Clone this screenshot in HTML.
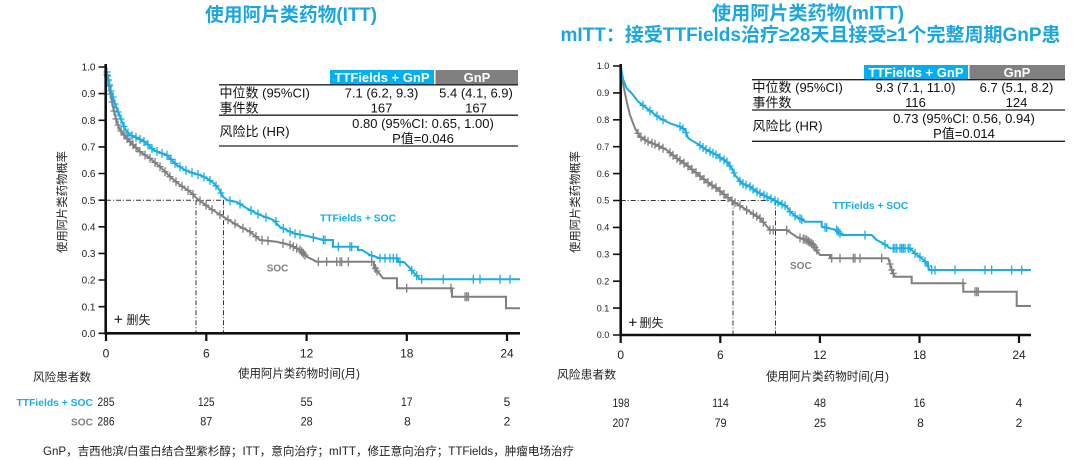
<!DOCTYPE html>
<html><head><meta charset="utf-8">
<style>
html,body{margin:0;padding:0;background:#fff;width:1080px;height:460px;overflow:hidden}
svg{display:block}
text{font-family:"Liberation Sans","Noto Sans CJK SC",sans-serif;fill:#1a1a1a}
.ttl{fill:#1aa6e0;font-weight:bold;font-size:19px}
.yt{font-size:10px;fill:#222}
.yt2{font-size:9px;fill:#222}
.xt{font-size:12px;fill:#222}
.tb{font-size:13px;fill:#111}
.hd{font-size:13px;font-weight:bold;fill:#fff}
.bl{fill:#19ade8;font-weight:bold;font-size:10.5px}
.gr{fill:#808080;font-weight:bold;font-size:10.5px}
.rn{font-size:12px;fill:#222}
</style></head><body>
<svg width="1080" height="460" viewBox="0 0 1080 460" xmlns="http://www.w3.org/2000/svg">
<defs>
<marker id="mb" viewBox="0 0 10 12" markerWidth="10" markerHeight="12" refX="5" refY="6" markerUnits="userSpaceOnUse" overflow="visible"><path d="M5,1.5V10.5M1.5,6H8.5" stroke="#19ade8" stroke-width="1.3" fill="none"/></marker>
<marker id="mg" viewBox="0 0 10 12" markerWidth="10" markerHeight="12" refX="5" refY="6" markerUnits="userSpaceOnUse" overflow="visible"><path d="M5,1.5V10.5M1.5,6H8.5" stroke="#808080" stroke-width="1.3" fill="none"/></marker>
</defs>

<!-- Titles -->
<text x="291" y="21" text-anchor="middle" class="ttl" textLength="172" lengthAdjust="spacingAndGlyphs">使用阿片类药物(ITT)</text>
<text x="808" y="19.5" text-anchor="middle" class="ttl" textLength="192" lengthAdjust="spacingAndGlyphs">使用阿片类药物(mITT)</text>
<text x="810.5" y="41" text-anchor="middle" class="ttl" textLength="500" lengthAdjust="spacingAndGlyphs">mITT：接受TTFields治疗≥28天且接受≥1个完整周期GnP患</text>

<!-- ================= LEFT CHART ================= -->
<g>
<path d="M106,200.2H224M196,200.2V333M223.5,200.2V333" stroke="#333" stroke-width="1" stroke-dasharray="5 2 1 2" fill="none"/>
<polyline fill="none" stroke="#808080" stroke-width="2" points="105.7,66 107,75 108.3,81.7 110,91.7 113.3,108.3 116.7,121.7 120,130 126.7,138.3 133.3,145 140,151.7 150,158.3 160,166.7 170,176.7 180,185 190,191.7 196.7,198.3 210,208.3 223.3,216.7 236.7,225 250,231.7 260,240 276.7,241.7 290,245 300,250 306.7,256.7 316.7,261.7 374,261.7 374,268 378,272 383,278.3 397,278.3 397,288.3 452,288.3 452,296.7 506,296.7 506,308.3 520,308.3"/>
<polyline fill="none" stroke="#19ade8" stroke-width="2" points="105.7,66 106.5,72 108.3,78.3 110,88 113.3,98.3 116.7,108.3 120,116.7 123.3,125 126.7,131.7 130,135 136.7,137.7 143.3,141 148.3,145 153.3,150 160,152.7 166.7,155 171.7,160 176.7,165 185,170 193.3,173.3 200,175 206.7,178.3 213.3,182.7 218.3,188.3 223.3,196.7 226.7,200 236.7,202 246.7,208.3 260,215 273.3,220 280,227 286.7,230 293.3,233.3 310,236.7 323.3,240 333,240 333,246.7 358,246.7 358,250 362,250 370,255 380,258.3 398,258.3 398,262 404,262 410,268.3 414,273 417,276 420,279.3 520,279.3"/>
<polyline fill="none" stroke="none" marker-start="url(#mg)" marker-mid="url(#mg)" marker-end="url(#mg)" points="107,75 108,80 109,86 110.5,94 112,102 114,111 116,119 118,125 121,131 124,135 127,138.6 130,141.7 133,144.7 136,147.7 140,151.7 145,155 150,158.3 155,162.5 160,166.7 165,171.7 170,176.7 176,181.7 182,186.3 188,190.4 193,194.3 200,200.8 206,205.3 212,209.6 220,214.7 228,219.8 235,223.9 243,228.2 250,231.7 256,236.7 262,240.2 268,240.8 283,243.2 290,245 293.3,246.7 296.7,248.3 300,250 301.7,251.7 303.3,253.3 305,255 318.3,261.7 326.7,261.7 336.7,261.7 340,261.7 341.7,261.7 348.3,261.7 371.7,261.7 375.5,268.5 377,271 406.7,288.3 451,288.3 465,296.7 466.7,296.7 468.3,296.7"/>
<polyline fill="none" stroke="none" marker-start="url(#mb)" marker-mid="url(#mb)" marker-end="url(#mb)" points="107,72 107.5,76 108.5,80 109.5,85 111,91 113,97 115,104 118,112 121,119 124,126.5 128,133 132,135.8 136,137.4 140,139.4 144,141.5 148,144.8 152,148.7 157,151.5 162,153.4 167,155.3 171,159.3 175,163.3 180,166.9 186,170.4 192,172.8 198,174.5 204,177 210,180.5 216,185.8 221,193 230,200.7 240,204 251,210.5 258,214 266,217.3 276,221.5 283.3,228.5 290,231.7 295,233.6 300,234.6 313.3,237.5 323.3,240 325,240 338.3,246.7 350,246.7 351.7,246.7 371.7,255.6 380,258.3 385,258.3 390,258.3 393.3,258.3 396.7,258.3 400,262 411.7,270.4 416.7,275.7 421.7,279.3 443.3,279.3 473.3,279.3 480,279.3 500,279.3 510,279.3"/>
<path d="M105.7,64V334.6M104.5,333.3H520" stroke="#111" stroke-width="2.6" fill="none"/>
<path d="M98.5,333.3H105M98.5,306.7H105M98.5,280H105M98.5,253.4H105M98.5,226.8H105M98.5,200.2H105M98.5,173.5H105M98.5,146.9H105M98.5,120.3H105M98.5,93.6H105M98.5,67H105" stroke="#111" stroke-width="1.6" fill="none"/>
<path d="M106,333V341M206.3,333V341M306.6,333V341M406.8,333V341M507,333V341" stroke="#111" stroke-width="2.2" fill="none"/>
<g text-anchor="end">
<text class="yt" x="95.5" y="336.9">0.0</text>
<text class="yt" x="95.5" y="310.3">0.1</text>
<text class="yt" x="95.5" y="283.6">0.2</text>
<text class="yt" x="95.5" y="257">0.3</text>
<text class="yt" x="95.5" y="230.4">0.4</text>
<text class="yt" x="95.5" y="203.8">0.5</text>
<text class="yt" x="95.5" y="177.1">0.6</text>
<text class="yt" x="95.5" y="150.5">0.7</text>
<text class="yt" x="95.5" y="123.9">0.8</text>
<text class="yt" x="95.5" y="97.2">0.9</text>
<text class="yt" x="95.5" y="70.6">1.0</text>
</g>
<text class="xt" x="106" y="357.5" text-anchor="middle">0</text>
<text class="xt" x="206.3" y="357.5" text-anchor="middle">6</text>
<text class="xt" x="306.6" y="357.5" text-anchor="middle">12</text>
<text class="xt" x="406.8" y="357.5" text-anchor="middle">18</text>
<text class="xt" x="507" y="357.5" text-anchor="middle">24</text>
<text x="299" y="377.5" text-anchor="middle" font-size="12" textLength="122" lengthAdjust="spacingAndGlyphs" style="fill:#222">使用阿片类药物时间(月)</text>
<text transform="translate(62,202) rotate(-90)" text-anchor="middle" dy="4" font-size="11.5" textLength="102" lengthAdjust="spacingAndGlyphs" style="fill:#222">使用阿片类药物概率</text>
<path d="M114.5,319.3H122M118.3,315.5V323" stroke="#222" stroke-width="1.2"/>
<text x="126.5" y="323.8" font-size="12" style="fill:#222">删失</text>
<text class="bl" x="320" y="221.5" textLength="76" lengthAdjust="spacingAndGlyphs">TTFields + SOC</text>
<text class="gr" x="266.7" y="271.5" textLength="21.6" lengthAdjust="spacingAndGlyphs">SOC</text>
<rect x="330" y="70" width="104" height="14.5" fill="#00b0f0"/>
<rect x="435.5" y="70" width="82.5" height="14.5" fill="#808080"/>
<text class="hd" x="382" y="81.8" text-anchor="middle">TTFields + GnP</text>
<text class="hd" x="477" y="81.8" text-anchor="middle">GnP</text>
<path d="M219,84.8H518M219,115.2H518M219,146H518" stroke="#222" stroke-width="1.3" fill="none"/>
<text class="tb" x="219.5" y="97.5">中位数 (95%CI)</text>
<text class="tb" x="381.5" y="97.5" text-anchor="middle">7.1 (6.2, 9.3)</text>
<text class="tb" x="476" y="97.5" text-anchor="middle">5.4 (4.1, 6.9)</text>
<text class="tb" x="219.5" y="112.3">事件数</text>
<text class="tb" x="381.5" y="112.3" text-anchor="middle">167</text>
<text class="tb" x="476" y="112.3" text-anchor="middle">167</text>
<text class="tb" x="219.5" y="135.8">风险比 (HR)</text>
<text class="tb" x="423" y="128.2" text-anchor="middle">0.80 (95%CI: 0.65, 1.00)</text>
<text class="tb" x="423" y="143" text-anchor="middle">P值=0.046</text>
</g>

<!-- ================= RIGHT CHART ================= -->
<g>
<path d="M620.7,200.5H776M733,200.5V335M775.5,200.5V335" stroke="#333" stroke-width="1" stroke-dasharray="5 2 1 2" fill="none"/>
<polyline fill="none" stroke="#808080" stroke-width="2" points="620.7,66 623.3,85 626.7,101.7 630,115 635,128.3 640,136.7 646.7,141 656.7,145 666.7,150 676.7,158.3 686.7,165 696.7,173.3 706.7,181.7 716.7,188.3 726.7,196.7 733.3,201.7 746.7,210 760,218.3 770,230 786.7,230 796.7,237 806.7,240 813.3,245 820,255 830,255 830,258.3 888.3,258.3 891.7,270 895,276.7 911.7,276.7 911.7,283.3 963.3,283.3 963.3,291.7 1016.7,291.7 1016.7,306 1031,306"/>
<polyline fill="none" stroke="#19ade8" stroke-width="2" points="620.7,66 623.3,80 626.7,88.3 631.7,93.3 638.3,101.7 646.7,108.3 653.3,113.3 660,118.3 670,123.3 680,126.7 685,130 688.3,138.3 696.7,143.3 706.7,150 716.7,155 726.7,161.7 731.7,168.3 735,175 741.7,183.3 750,186.7 756.7,191.7 766.7,196.7 776.7,201.7 786.7,206.7 790,211.7 796.7,217 800,218.5 805,221.7 821.7,221.7 821.7,226.7 836.7,230 841.7,235 871.7,235 876.7,240 883.3,243.3 890,248.3 910,248.3 915,253.3 921.7,258.3 926.7,263.3 929.3,270 1031,270"/>
<polyline fill="none" stroke="none" marker-start="url(#mg)" marker-mid="url(#mg)" marker-end="url(#mg)" points="638,133.3 641,137.3 645,139.9 648,141.5 652,143.1 655,144.3 659,146.2 663,148.2 670,152.8 673,155.3 677,158.5 680,160.5 684,163.2 688,166.1 692,169.4 696,172.7 700,176.1 704,179.4 708,182.6 712,185.2 716,187.8 720,191.1 724,194.4 728,197.7 732,200.7 735,202.8 740,205.8 746.7,210 753.3,214.1 756.7,216.2 760,218.3 763.3,222.2 770,230 773.3,230 786.7,230 800,238 803.3,239 805,239.5 806.7,240 808.3,241.2 810,242.5 811.7,243.8 813.3,245 815,247.5 816.7,250 831.7,258.3 840,258.3 853.3,258.3 855,258.3 860,258.3 881.7,258.3 890,264 891.7,270 893.3,273.4 963,283.3 975,291.7 976.7,291.7 978.3,291.7"/>
<polyline fill="none" stroke="none" marker-start="url(#mb)" marker-mid="url(#mb)" marker-end="url(#mb)" points="643,105.3 650,110.8 657,116 663,119.8 680,126.7 683,128.7 686,132.5 700,145.5 703,147.5 706,149.5 710,151.6 713,153.2 716,154.6 720,157.9 724,159.9 727,162 730,166 734,173 740,181.2 743,183.8 746,185 750,186.7 753,189 757,191.9 760,193.3 764,195.3 767,196.9 771,198.8 775,200.8 778,202.3 782,204.3 785,205.8 790,211.7 795,215.9 800,218.5 801.7,219.6 825,227.4 826.7,227.8 836.7,230 838.3,231.6 840,233.3 865,235 885,244.5 893.3,248.3 895,248.3 896.7,248.3 900,248.3 901.7,248.3 903.3,248.3 905,248.3 908.3,248.3 910,248.3 915,253.3 920,257 925,261.6 928.3,266 931.7,270 935,270 955,270 985,270 991.7,270 1011.7,270 1021.7,270"/>
<path d="M620.7,64V336.3M619.5,335H1031" stroke="#111" stroke-width="2.6" fill="none"/>
<path d="M613,335H620M613,308.1H620M613,281.2H620M613,254.3H620M613,227.4H620M613,200.5H620M613,173.6H620M613,146.7H620M613,119.8H620M613,92.9H620M613,66H620" stroke="#111" stroke-width="1.6" fill="none"/>
<path d="M620.7,335V343M720.3,335V343M819.9,335V343M919.5,335V343M1019,335V343" stroke="#111" stroke-width="2.2" fill="none"/>
<text class="yt2" x="609.3" y="338.2" text-anchor="end">0.0</text>
<text class="yt2" x="609.3" y="311.3" text-anchor="end">0.1</text>
<text class="yt2" x="609.3" y="284.4" text-anchor="end">0.2</text>
<text class="yt2" x="609.3" y="257.5" text-anchor="end">0.3</text>
<text class="yt2" x="609.3" y="230.6" text-anchor="end">0.4</text>
<text class="yt2" x="609.3" y="203.7" text-anchor="end">0.5</text>
<text class="yt2" x="609.3" y="176.8" text-anchor="end">0.6</text>
<text class="yt2" x="609.3" y="149.9" text-anchor="end">0.7</text>
<text class="yt2" x="609.3" y="123" text-anchor="end">0.8</text>
<text class="yt2" x="609.3" y="96.1" text-anchor="end">0.9</text>
<text class="yt2" x="609.3" y="69.2" text-anchor="end">1.0</text>
<text class="xt" x="620.7" y="359" text-anchor="middle">0</text>
<text class="xt" x="720.3" y="359" text-anchor="middle">6</text>
<text class="xt" x="819.9" y="359" text-anchor="middle">12</text>
<text class="xt" x="919.5" y="359" text-anchor="middle">18</text>
<text class="xt" x="1019" y="359" text-anchor="middle">24</text>
<text x="827.5" y="380.5" text-anchor="middle" font-size="12" textLength="123" lengthAdjust="spacingAndGlyphs" style="fill:#222">使用阿片类药物时间(月)</text>
<text transform="translate(575,202) rotate(-90)" text-anchor="middle" dy="4" font-size="11.5" textLength="102" lengthAdjust="spacingAndGlyphs" style="fill:#222">使用阿片类药物概率</text>
<path d="M629,322.3H636.5M632.7,318.5V326" stroke="#222" stroke-width="1.2"/>
<text x="639.5" y="326.8" font-size="12" style="fill:#222">删失</text>
<text class="bl" x="832.7" y="209" textLength="75.6" lengthAdjust="spacingAndGlyphs">TTFields + SOC</text>
<text class="gr" x="790" y="269" textLength="21.7" lengthAdjust="spacingAndGlyphs">SOC</text>
<rect x="864" y="65" width="104" height="14.5" fill="#00b0f0"/>
<rect x="969.5" y="65" width="95.5" height="14.5" fill="#808080"/>
<text class="hd" x="916" y="76.8" text-anchor="middle">TTFields + GnP</text>
<text class="hd" x="1017" y="76.8" text-anchor="middle">GnP</text>
<path d="M752,79.7H1065M752,110H1065M752,141.3H1065" stroke="#222" stroke-width="1.3" fill="none"/>
<text class="tb" x="752.5" y="92">中位数 (95%CI)</text>
<text class="tb" x="915.5" y="92" text-anchor="middle">9.3 (7.1, 11.0)</text>
<text class="tb" x="1016.5" y="92" text-anchor="middle">6.7 (5.1, 8.2)</text>
<text class="tb" x="752.5" y="107">事件数</text>
<text class="tb" x="915.5" y="107" text-anchor="middle">116</text>
<text class="tb" x="1016.5" y="107" text-anchor="middle">124</text>
<text class="tb" x="752.5" y="130.5">风险比 (HR)</text>
<text class="tb" x="964" y="123" text-anchor="middle">0.73 (95%CI: 0.56, 0.94)</text>
<text class="tb" x="964" y="138" text-anchor="middle">P值=0.014</text>
</g>

<!-- ================= RISK TABLE ================= -->
<text x="33" y="381" font-size="11.5" textLength="58" lengthAdjust="spacingAndGlyphs" style="fill:#222">风险患者数</text>
<text x="557" y="378.5" font-size="11.5" textLength="59" lengthAdjust="spacingAndGlyphs" style="fill:#222">风险患者数</text>
<text class="bl" x="93" y="406" text-anchor="end" textLength="76.5" lengthAdjust="spacingAndGlyphs">TTFields + SOC</text>
<text class="gr" x="93" y="425.5" text-anchor="end" textLength="22" lengthAdjust="spacingAndGlyphs">SOC</text>
<g text-anchor="middle">
<text class="rn" x="106" y="406" textLength="17" lengthAdjust="spacingAndGlyphs">285</text>
<text class="rn" x="206.3" y="406" textLength="16.5" lengthAdjust="spacingAndGlyphs">125</text>
<text class="rn" x="306.6" y="406" textLength="12" lengthAdjust="spacingAndGlyphs">55</text>
<text class="rn" x="406.8" y="406" textLength="11.5" lengthAdjust="spacingAndGlyphs">17</text>
<text class="rn" x="507" y="406">5</text>
<text class="rn" x="106" y="425.5" textLength="17" lengthAdjust="spacingAndGlyphs">286</text>
<text class="rn" x="206.3" y="425.5" textLength="12" lengthAdjust="spacingAndGlyphs">87</text>
<text class="rn" x="306.6" y="425.5" textLength="12" lengthAdjust="spacingAndGlyphs">28</text>
<text class="rn" x="407.5" y="425.5">8</text>
<text class="rn" x="507" y="425.5">2</text>
<text class="rn" x="621" y="407" textLength="17" lengthAdjust="spacingAndGlyphs">198</text>
<text class="rn" x="720.5" y="407" textLength="16.5" lengthAdjust="spacingAndGlyphs">114</text>
<text class="rn" x="820" y="407" textLength="12" lengthAdjust="spacingAndGlyphs">48</text>
<text class="rn" x="919.5" y="407" textLength="11.5" lengthAdjust="spacingAndGlyphs">16</text>
<text class="rn" x="1019" y="407">4</text>
<text class="rn" x="621" y="427" textLength="17" lengthAdjust="spacingAndGlyphs">207</text>
<text class="rn" x="720.5" y="427" textLength="12" lengthAdjust="spacingAndGlyphs">79</text>
<text class="rn" x="820" y="427" textLength="12" lengthAdjust="spacingAndGlyphs">25</text>
<text class="rn" x="920.5" y="427">8</text>
<text class="rn" x="1019" y="427">2</text>
</g>

<text x="43" y="455" font-size="11.5" textLength="531" lengthAdjust="spacingAndGlyphs" style="fill:#222">GnP，吉西他滨/白蛋白结合型紫杉醇；ITT，意向治疗；mITT，修正意向治疗；TTFields，肿瘤电场治疗</text>
</svg>
</body></html>
